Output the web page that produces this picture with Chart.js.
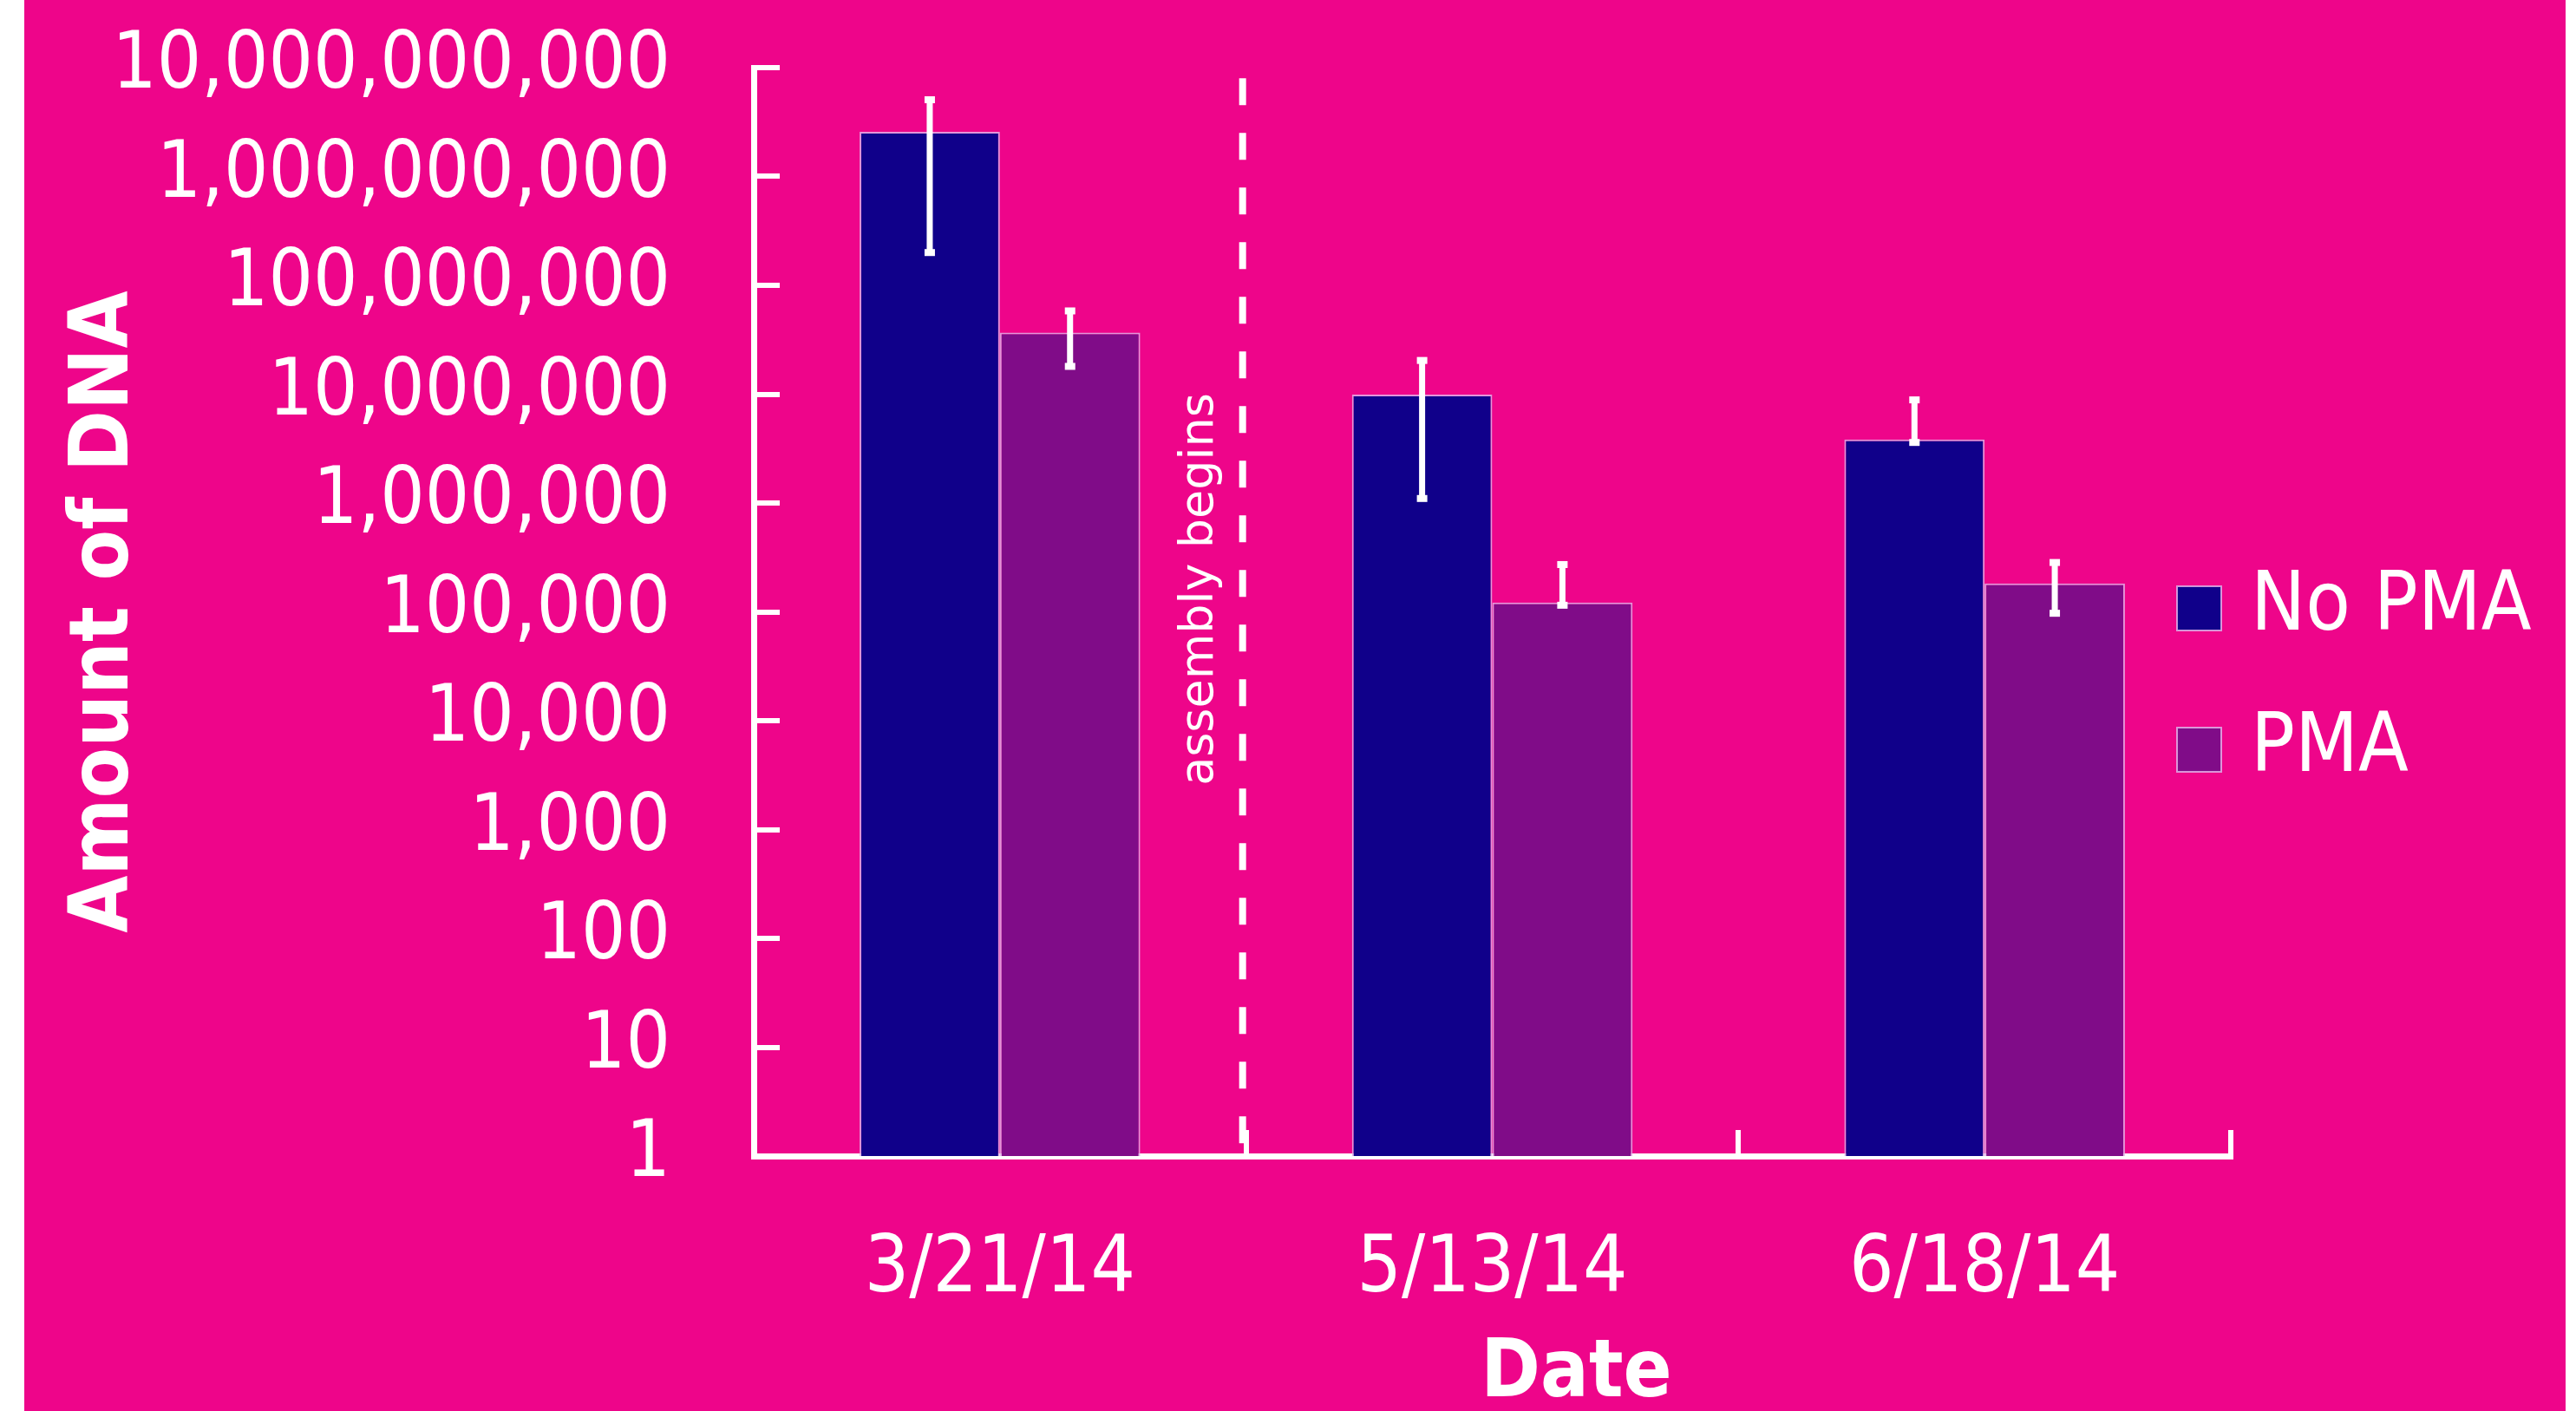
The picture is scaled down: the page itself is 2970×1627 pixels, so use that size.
<!DOCTYPE html>
<html>
<head>
<meta charset="utf-8">
<script src="https://cdn.jsdelivr.net/npm/chart.js@4.4.1/dist/chart.umd.min.js"></script>
<style>
  html, body { margin: 0; padding: 0; background: #fff; }
  #frame { position: absolute; left: 28px; top: 0; width: 2930px; height: 1627px; background: #EE058A; }
  canvas { display: block; }
</style>
</head>
<body>
<div id="frame"><canvas id="dnaChart" width="2930" height="1627"></canvas></div>
<script>
const dates = ['3/21/14', '5/13/14', '6/18/14'];
const seriesNames = ['No PMA', 'PMA'];
const noPma = [2.57e9, 9.9e6, 3.84e6];
const noPmaLow = [2.0e8, 1.1e6, 3.6e6];
const noPmaHigh = [5.07e9, 2.04e7, 8.86e6];
const pma = [3.68e7, 1.22e5, 1.82e5];
const pmaLow = [1.8e7, 1.15e5, 9.7e4];
const pmaHigh = [5.82e7, 2.72e5, 2.84e5];
const yTicks = [1, 10, 100, 1e3, 1e4, 1e5, 1e6, 1e7, 1e8, 1e9, 1e10];
const markerText = 'assembly begins';

const FONT = '"DejaVu Sans Condensed", "DejaVu Sans", sans-serif';
const WHITE = '#ffffff';
const EDGE = 'rgba(225, 175, 230, 0.85)';

// white error bars centred on each bar
const errorBars = {
    id: 'errorBars',
    afterDatasetsDraw(chart) {
        const { ctx } = chart;
        const y = chart.scales.y;
        ctx.save();
        ctx.strokeStyle = WHITE;
        ctx.fillStyle = WHITE;
        ctx.lineWidth = 7;
        chart.data.datasets.forEach((ds, i) => {
            chart.getDatasetMeta(i).data.forEach((bar, j) => {
                const top = y.getPixelForValue(ds.errHigh[j]);
                const bot = y.getPixelForValue(ds.errLow[j]);
                ctx.beginPath();
                ctx.moveTo(bar.x, top);
                ctx.lineTo(bar.x, bot);
                ctx.stroke();
                ctx.fillRect(bar.x - 6, top - 4, 12, 8);
                ctx.fillRect(bar.x - 6, bot - 4, 12, 8);
            });
        });
        ctx.restore();
    }
};

// dashed divider between the first two dates
const assemblyMarker = {
    id: 'assemblyMarker',
    afterDatasetsDraw(chart) {
        const { ctx, chartArea } = chart;
        const xs = chart.scales.x;
        const y = chart.scales.y;
        const x = (xs.getPixelForValue(0) + xs.getPixelForValue(1)) / 2 - 4;
        ctx.save();
        ctx.strokeStyle = WHITE;
        ctx.lineWidth = 8;
        ctx.setLineDash([31, 32]);
        ctx.beginPath();
        ctx.moveTo(x, y.getPixelForValue(8e9));
        ctx.lineTo(x, chartArea.bottom);
        ctx.stroke();
        ctx.setLineDash([]);
        ctx.translate(x - 49, (chartArea.top + chartArea.bottom) / 2 - 26);
        ctx.rotate(-Math.PI / 2);
        ctx.fillStyle = WHITE;
        ctx.font = '54px "DejaVu Sans", sans-serif';
        ctx.textAlign = 'center';
        ctx.textBaseline = 'middle';
        ctx.fillText(markerText, 0, 0);
        ctx.restore();
    }
};

// legend sits over the right end of the x axis, so it is drawn here
const sideLegend = {
    id: 'sideLegend',
    afterDraw(chart) {
        const { ctx, chartArea } = chart;
        const mid = (chartArea.top + chartArea.bottom) / 2;
        ctx.save();
        ctx.font = '94px ' + FONT;
        ctx.textBaseline = 'middle';
        ctx.textAlign = 'left';
        chart.data.datasets.forEach((ds, i) => {
            const cy = mid - 4 + i * 163;
            const bx = chartArea.right - 62;
            ctx.fillStyle = ds.backgroundColor;
            ctx.fillRect(bx, cy - 25.5, 51, 51);
            ctx.strokeStyle = EDGE;
            ctx.lineWidth = 2;
            ctx.strokeRect(bx, cy - 25.5, 51, 51);
            ctx.fillStyle = WHITE;
            ctx.fillText(ds.label, chartArea.right + 23, cy);
        });
        // x axis title, set right of centre like the original
        ctx.font = 'bold 92px ' + FONT;
        ctx.textAlign = 'center';
        ctx.textBaseline = 'alphabetic';
        ctx.fillText('Date', (chartArea.left + chartArea.right) / 2 + 97, 1610);
        ctx.restore();
    }
};

const zeroPadding = s => {
    s.paddingTop = 0;
    s.paddingBottom = 0;
    s.paddingLeft = 0;
    s.paddingRight = 0;
};

new Chart(document.getElementById('dnaChart'), {
    type: 'bar',
    data: {
        labels: dates,
        datasets: [
            { label: seriesNames[0], data: noPma, errLow: noPmaLow, errHigh: noPmaHigh,
              backgroundColor: '#10008A', borderColor: EDGE, borderWidth: 2 },
            { label: seriesNames[1], data: pma, errLow: pmaLow, errHigh: pmaHigh,
              backgroundColor: '#800C88', borderColor: EDGE, borderWidth: 2 }
        ]
    },
    options: {
        responsive: false,
        animation: false,
        devicePixelRatio: 1,
        layout: { padding: { top: 78, right: 386, left: 0, bottom: 0 } },
        datasets: { bar: { barPercentage: 1, categoryPercentage: 0.57 } },
        plugins: { legend: { display: false }, tooltip: { enabled: false } },
        scales: {
            x: {
                z: 1,
                grid: { offset: true, drawOnChartArea: false, tickLength: -30, lineWidth: 6, color: WHITE },
                border: { display: true, color: WHITE, width: 7 },
                ticks: { color: WHITE, font: { family: FONT, size: 90 }, padding: 109 },
                afterFit: s => { s.height = 294; zeroPadding(s); }
            },
            y: {
                type: 'logarithmic',
                z: 1,
                min: 1,
                max: 1e10,
                afterBuildTicks: s => { s.ticks = yTicks.map(v => ({ value: v })); },
                grid: { drawOnChartArea: false, tickLength: -30, lineWidth: 6, color: WHITE },
                border: { display: true, color: WHITE, width: 7 },
                ticks: {
                    color: WHITE,
                    autoSkip: false,
                    font: { family: FONT, size: 90 },
                    padding: 126,
                    callback: v => Number(v).toLocaleString('en-US')
                },
                title: {
                    display: true,
                    text: 'Amount of DNA',
                    color: WHITE,
                    font: { family: FONT, size: 95, weight: 'bold', lineHeight: 1 },
                    padding: { top: 47, bottom: 0 }
                },
                afterFit: s => { s.width = 841; zeroPadding(s); }
            }
        }
    },
    plugins: [errorBars, assemblyMarker, sideLegend]
});
</script>
</body>
</html>
